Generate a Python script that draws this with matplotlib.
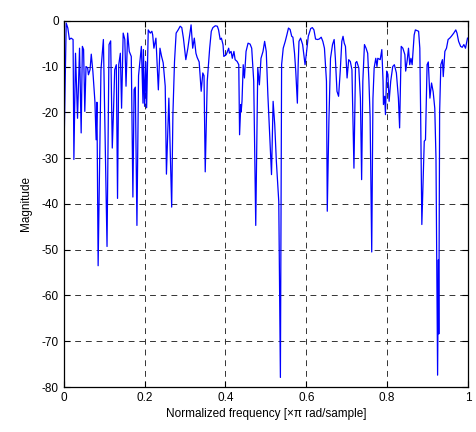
import numpy as np
import matplotlib
matplotlib.use("Agg")
import matplotlib.pyplot as plt

# values (normalized frequency, magnitude in dB)
freq = [0.000, 0.006, 0.010, 0.014, 0.018, 0.023, 0.025, 0.029, 0.034, 0.039,
        0.043, 0.046, 0.049, 0.052, 0.055, 0.059, 0.061, 0.065, 0.068, 0.072,
        0.077, 0.080, 0.082, 0.085, 0.092, 0.098, 0.107, 0.112, 0.116, 0.120,
        0.123, 0.126, 0.130, 0.133, 0.136, 0.140, 0.143, 0.147, 0.151, 0.154,
        0.158, 0.162, 0.167, 0.171, 0.174, 0.177, 0.181, 0.185, 0.192, 0.196,
        0.197, 0.200, 0.203, 0.205, 0.209, 0.214, 0.218, 0.220, 0.223, 0.228,
        0.234, 0.238, 0.242, 0.246, 0.251, 0.254, 0.260, 0.267, 0.270, 0.274,
        0.278, 0.283, 0.288, 0.292, 0.296, 0.302, 0.307, 0.311, 0.315, 0.319,
        0.323, 0.327, 0.330, 0.335, 0.340, 0.344, 0.347, 0.350, 0.355, 0.361,
        0.365, 0.369, 0.375, 0.380, 0.383, 0.387, 0.390, 0.394, 0.396, 0.402,
        0.408, 0.410, 0.414, 0.417, 0.421, 0.424, 0.429, 0.433, 0.435, 0.438,
        0.439, 0.441, 0.444, 0.447, 0.451, 0.456, 0.461, 0.465, 0.470, 0.475,
        0.480, 0.484, 0.488, 0.493, 0.497, 0.501, 0.505, 0.508, 0.514, 0.518,
        0.522, 0.526, 0.532, 0.536, 0.539, 0.543, 0.548, 0.552, 0.556, 0.560,
        0.564, 0.567, 0.571, 0.574, 0.578, 0.580, 0.582, 0.586, 0.591, 0.595,
        0.597, 0.600, 0.605, 0.611, 0.615, 0.619, 0.623, 0.628, 0.632, 0.637,
        0.641, 0.645, 0.650, 0.652, 0.656, 0.660, 0.665, 0.669, 0.672, 0.676,
        0.680, 0.684, 0.688, 0.691, 0.694, 0.697, 0.701, 0.705, 0.709, 0.713,
        0.718, 0.722, 0.725, 0.730, 0.734, 0.737, 0.740, 0.744, 0.748, 0.752,
        0.755, 0.758, 0.762, 0.765, 0.768, 0.772, 0.775, 0.777, 0.783, 0.787,
        0.790, 0.791, 0.794, 0.796, 0.799, 0.802, 0.805, 0.809, 0.814, 0.818,
        0.823, 0.828, 0.831, 0.835, 0.839, 0.844, 0.846, 0.850, 0.853, 0.856,
        0.859, 0.862, 0.867, 0.870, 0.875, 0.878, 0.881, 0.883, 0.886, 0.892,
        0.895, 0.899, 0.902, 0.906, 0.910, 0.914, 0.918, 0.921, 0.925, 0.927,
        0.928, 0.930, 0.933, 0.937, 0.939, 0.943, 0.947, 0.951, 0.955, 0.959,
        0.965, 0.970, 0.973, 0.977, 0.982, 0.986, 0.990, 0.994, 0.999]

mag = [-31.0, -0.5, -1.6, -4.1, -3.8, -4.1, -30.3, -7.1, -21.3, -6.0,
       -24.5, -5.6, -6.3, -19.8, -10.0, -10.3, -11.8, -10.7, -7.3, -11.1,
       -17.6, -26.0, -17.8, -53.5, -10.7, -4.1, -49.3, -5.2, -4.4, -27.8,
       -19.8, -10.7, -9.6, -38.8, -9.6, -7.1, -19.1, -2.7, -4.1, -14.3,
       -2.7, -6.7, -7.8, -38.5, -15.0, -14.5, -44.7, -12.0, -5.6, -18.0,
       -6.3, -18.7, -9.0, -19.0, -2.0, -2.7, -2.3, -3.1, -6.0, -3.8,
       -15.1, -6.0, -7.8, -9.2, -14.3, -33.5, -16.9, -40.7, -20.5, -8.9,
       -2.7, -2.0, -1.2, -1.5, -3.8, -8.5, -6.0, -3.4, -0.9, -6.0,
       -3.8, -7.1, -8.0, -9.0, -15.4, -11.4, -12.0, -33.0, -13.2, -6.0,
       -2.3, -1.5, -1.1, -1.2, -2.0, -4.1, -3.8, -5.2, -7.8, -7.4,
       -6.0, -7.1, -6.7, -8.2, -6.7, -8.5, -8.9, -9.6, -24.9, -18.3,
       -19.8, -17.6, -9.6, -12.5, -6.7, -4.9, -5.1, -6.0, -13.2, -44.7,
       -10.3, -14.0, -8.2, -6.7, -4.5, -6.7, -16.2, -22.0, -33.6, -17.6,
       -22.7, -30.7, -39.5, -77.9, -9.6, -6.0, -4.5, -3.1, -1.6, -1.9,
       -3.4, -3.6, -7.1, -11.0, -18.0, -9.6, -4.5, -3.8, -5.2, -8.2,
       -9.6, -7.4, -3.4, -1.7, -1.5, -2.0, -4.0, -4.1, -4.0, -3.6,
       -4.5, -6.0, -13.2, -41.6, -22.0, -8.2, -5.2, -4.1, -8.2, -15.4,
       -16.5, -11.1, -4.5, -3.4, -4.9, -5.6, -12.5, -8.5, -8.9, -10.7,
       -32.2, -9.2, -8.9, -10.3, -17.0, -34.7, -13.2, -5.2, -6.0, -7.1,
       -13.0, -21.0, -50.5, -17.0, -10.3, -8.2, -10.0, -8.2, -8.5, -6.3,
       -13.2, -18.3, -16.5, -20.5, -11.0, -11.7, -17.6, -13.2, -10.0, -9.6,
       -11.4, -16.9, -23.4, -5.6, -6.0, -7.4, -11.0, -8.5, -6.0, -9.6,
       -8.2, -9.6, -3.1, -2.0, -2.2, -2.3, -6.0, -20.0, -44.5, -26.3,
       -26.0, -9.6, -9.0, -16.9, -13.6, -15.5, -19.1, -30.0, -77.4, -52.2,
       -68.4, -20.0, -9.6, -8.5, -12.2, -6.7, -6.0, -4.1, -3.8, -3.4,
       -2.7, -2.0, -2.7, -4.5, -5.6, -5.8, -5.2, -6.0, -3.8]

plt.rcParams['font.family'] = ['Liberation Sans', 'DejaVu Sans']
plt.rcParams['font.size'] = 8.5
plt.rcParams['axes.unicode_minus'] = False

fig = plt.figure(figsize=(4.76, 4.32), dpi=100)
ax = fig.add_axes([0.134, 0.104, 0.849, 0.848])

ax.plot(freq, mag, color='blue', linewidth=0.9)

ax.set_xlim(0, 1)
ax.set_ylim(-80, 0)
ax.set_xticks(np.arange(0, 1.01, 0.2))
ax.set_xticklabels(['0', '0.2', '0.4', '0.6', '0.8', '1'])
ax.set_yticks(np.arange(-80, 1, 10))
ax.grid(True, linestyle=(0, (6, 5)), color='#333333', linewidth=0.7)
ax.tick_params(direction='in', top=True, right=True, length=4, width=0.8)
for s in ax.spines.values():
    s.set_linewidth(0.9)

ax.set_xlabel('Normalized frequency [\u00d7\u03c0 rad/sample]', labelpad=3)
ax.set_ylabel('Magnitude', labelpad=7)

fig.savefig('out.png', dpi=100)
